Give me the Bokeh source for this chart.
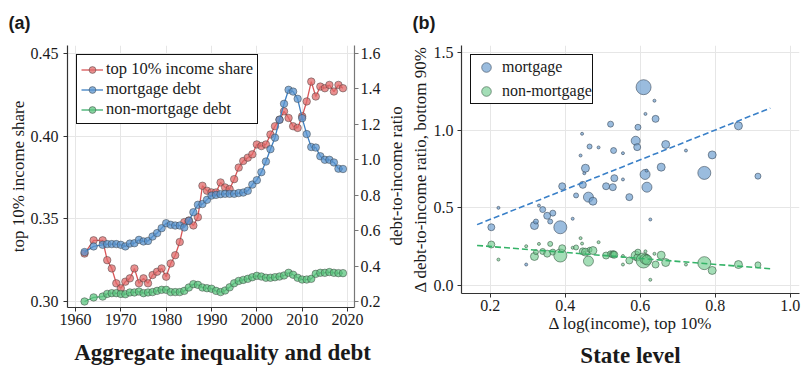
import math
from bokeh.plotting import figure
from bokeh.models import (Range1d, LinearAxis, FixedTicker, Legend, LegendItem,
                          Title, NumeralTickFormatter)
from bokeh.layouts import row
from bokeh.embed import file_html
from bokeh.resources import INLINE

# ---------------- data: panel (a) ----------------
years = [1962, 1964] + list(range(1966, 2020))
top10_share = [0.329, 0.337,
               0.337, 0.325, 0.320, 0.311,
               0.308, 0.312, 0.314, 0.320, 0.311, 0.314, 0.311, 0.316, 0.318, 0.320,
               0.315, 0.323, 0.328, 0.336, 0.348, 0.349, 0.346, 0.351, 0.370, 0.367,
               0.366, 0.366, 0.372, 0.369, 0.368, 0.374, 0.381, 0.385, 0.387, 0.389,
               0.395, 0.394, 0.395, 0.401, 0.406, 0.410, 0.415, 0.411, 0.406, 0.405,
               0.412, 0.421, 0.433, 0.424, 0.430, 0.429, 0.431, 0.427, 0.431, 0.429]
mortgage_debt = [0.479, 0.511,
                 0.520, 0.524, 0.524, 0.524,
                 0.520, 0.511, 0.527, 0.529, 0.548, 0.539, 0.542, 0.567, 0.586, 0.614,
                 0.642, 0.633, 0.629, 0.629, 0.618, 0.655, 0.704, 0.746, 0.750, 0.774,
                 0.798, 0.802, 0.806, 0.808, 0.808, 0.808, 0.812, 0.815, 0.825, 0.860,
                 0.885, 0.930, 0.990, 1.060, 1.125, 1.226, 1.316, 1.395, 1.385, 1.344,
                 1.235, 1.145, 1.072, 1.069, 1.020, 1.000, 1.000, 0.985, 0.950, 0.948]
nonmortgage_debt = [0.200, 0.223,
                    0.228, 0.243, 0.247, 0.247,
                    0.243, 0.241, 0.251, 0.251, 0.256, 0.247, 0.251, 0.253, 0.260, 0.266,
                    0.266, 0.253, 0.253, 0.253, 0.260, 0.279, 0.298, 0.294, 0.279, 0.275,
                    0.272, 0.260, 0.253, 0.262, 0.280, 0.303, 0.316, 0.322, 0.328, 0.337,
                    0.345, 0.341, 0.334, 0.334, 0.337, 0.341, 0.347, 0.362, 0.351, 0.334,
                    0.324, 0.324, 0.328, 0.356, 0.362, 0.362, 0.366, 0.362, 0.360, 0.360]

year_ticks = [1960, 1970, 1980, 1990, 2000, 2010, 2020]
share_ticks = [0.30, 0.35, 0.40, 0.45]
ratio_ticks = [0.2, 0.4, 0.6, 0.8, 1.0, 1.2, 1.4, 1.6]

# ---------------- data: panel (b) ----------------
state_dlog_income = [0.203, 0.222, 0.296, 0.318, 0.322, 0.330, 0.340, 0.352, 0.360, 0.367,
                     0.387, 0.392, 0.420, 0.429, 0.441, 0.445, 0.447, 0.451, 0.454, 0.462,
                     0.465, 0.474, 0.489, 0.509, 0.521, 0.527, 0.529, 0.531, 0.554, 0.554,
                     0.571, 0.588, 0.592, 0.594, 0.609, 0.613, 0.614, 0.617, 0.618, 0.627,
                     0.638, 0.641, 0.656, 0.668, 0.722, 0.771, 0.792, 0.862, 0.914]
state_d_mortgage = [0.375, 0.500, 0.135, 0.386, 0.412, 0.515, 0.489, 0.449, 0.412, 0.466,
                    0.375, 0.639, 0.430, 0.580, 0.837, 0.977, 0.648, 0.723, 0.755, 0.569,
                    0.895, 0.543, 0.889, 0.639, 1.039, 0.633, 0.869, 0.691, 0.852, 0.683,
                    0.569, 0.932, 0.891, 1.019, 1.277, 0.715, 1.105, 0.740, 0.633, 0.425,
                    1.190, 1.073, 0.762, 0.908, 0.869, 0.725, 0.841, 1.028, 0.704]
state_d_nonmortgage = [0.264, 0.167, 0.253, 0.187, 0.215, 0.268, 0.219, 0.205, 0.268, 0.215,
                       0.193, 0.240, 0.243, 0.245, 0.305, 0.270, 0.220, 0.210, 0.215, 0.157,
                       0.230, 0.225, 0.279, 0.193, 0.204, 0.200, 0.205, 0.198, 0.135, 0.190,
                       0.161, 0.193, 0.180, 0.215, 0.161, 0.170, 0.220, 0.190, 0.165, 0.037,
                       0.204, 0.135, 0.195, 0.148, 0.135, 0.144, 0.097, 0.135, 0.133]
state_size = [7, 3, 3, 8, 5, 3, 6, 7, 5, 6,
              13, 7, 3, 5, 3, 3, 7, 3, 8, 10,
              5, 8, 3, 7, 6, 7, 6, 7, 3, 3,
              7, 9, 7, 6, 15, 10, 3, 3, 10, 3,
              3, 7, 8, 8, 3, 13, 8, 8, 6]

fit_x = [0.165, 0.947]
fit_mortgage = [0.392, 1.142]
fit_nonmortgage = [0.258, 0.108]

state_x_ticks = [0.2, 0.4, 0.6, 0.8, 1.0]
state_y_ticks = [0.0, 0.5, 1.0, 1.5]

# ---------------- styles ----------------
SERIF = "Liberation Serif, DejaVu Serif, serif"
SANS = "Liberation Sans, DejaVu Sans, sans-serif"
RED_L, RED_F = "#d95557", "#e06a6a"
BLUE_L, BLUE_F = "#3d7fc1", "#5a94cf"
GREEN_L, GREEN_F = "#3cae6b", "#5cc47f"
GRID = "#e6e6e6"
TXT = "#1a1a1a"
NBSP = "\u00a0"


def style_axis(ax, line_color="#333333"):
    ax.major_label_text_font = SERIF
    ax.major_label_text_font_size = "16px"
    ax.major_label_text_color = TXT
    ax.axis_label_text_font = SERIF
    ax.axis_label_text_font_size = "17px"
    ax.axis_label_text_font_style = "normal"
    ax.axis_label_text_color = TXT
    ax.axis_line_color = line_color
    ax.axis_line_width = 1.2
    ax.major_tick_line_color = line_color
    ax.major_tick_line_width = 1.0
    ax.major_tick_in = 0
    ax.major_tick_out = 4
    ax.minor_tick_line_color = None


def text_only_axis(label, standoff, size="17px", bold=False):
    """An axis with no line and no ticks, used only to carry a title text."""
    ax = LinearAxis(ticker=FixedTicker(ticks=[]), axis_label=label)
    ax.axis_line_color = None
    ax.major_tick_line_color = None
    ax.minor_tick_line_color = None
    ax.major_label_text_font_size = "0px"
    ax.axis_label_text_font = SERIF
    ax.axis_label_text_font_size = size
    ax.axis_label_text_font_style = "bold" if bold else "normal"
    ax.axis_label_text_color = TXT
    ax.axis_label_standoff = standoff
    return ax


def panel_tag(text, offset):
    return Title(text=text, align="left", offset=offset, standoff=21, vertical_align="top",
                 text_font=SANS, text_font_style="bold", text_font_size="18px",
                 text_color=TXT)


# ================= panel (a) =================
p1 = figure(frame_width=287, frame_height=262,
            min_border_left=67, min_border_right=26, min_border_top=45, min_border_bottom=66,
            x_range=Range1d(1958.24, 2021.54), y_range=Range1d(0.29637, 0.45484),
            output_backend="svg", toolbar_location=None)
p1.extra_y_ranges = {"debt": Range1d(0.1661, 1.6452)}
p1.outline_line_color = None
p1.background_fill_color = "white"
p1.border_fill_color = "white"

p1.xaxis.ticker = FixedTicker(ticks=year_ticks)
p1.yaxis.ticker = FixedTicker(ticks=share_ticks)
p1.yaxis.formatter = NumeralTickFormatter(format="0.00")
p1.yaxis.axis_label = "top 10% income share"
style_axis(p1.xaxis[0])
style_axis(p1.yaxis[0])
p1.xaxis.major_label_standoff = 2
p1.yaxis.major_label_standoff = 5
p1.yaxis.axis_label_standoff = 0
# panel caption carried by the x axis title
p1.xaxis.axis_label = NBSP * 4 + "Aggregate inequality and debt"
p1.xaxis.axis_label_text_font_size = "23px"
p1.xaxis.axis_label_text_font_style = "bold"
p1.xaxis.axis_label_standoff = 12

rax = LinearAxis(y_range_name="debt", ticker=FixedTicker(ticks=ratio_ticks),
                 formatter=NumeralTickFormatter(format="0.0"))
style_axis(rax, line_color="#777777")
rax.major_label_standoff = 2
p1.add_layout(rax, "right")

for g in (p1.xgrid, p1.ygrid):
    g.grid_line_color = GRID
    g.grid_line_width = 1

l_red = p1.line(years, top10_share, line_color=RED_L, line_width=1.3)
s_red = p1.scatter(years, top10_share, size=7.5, fill_color=RED_F, fill_alpha=0.75,
                   line_color="#3a3a3a", line_alpha=0.6, line_width=0.8)
l_blue = p1.line(years, mortgage_debt, line_color=BLUE_L, line_width=1.3, y_range_name="debt")
s_blue = p1.scatter(years, mortgage_debt, size=7.5, fill_color=BLUE_F, fill_alpha=0.75,
                    line_color="#3a3a3a", line_alpha=0.6, line_width=0.8, y_range_name="debt")
l_green = p1.line(years, nonmortgage_debt, line_color=GREEN_L, line_width=1.3, y_range_name="debt")
s_green = p1.scatter(years, nonmortgage_debt, size=7.5, fill_color=GREEN_F, fill_alpha=0.75,
                     line_color="#3a3a3a", line_alpha=0.6, line_width=0.8, y_range_name="debt")

leg1 = Legend(items=[LegendItem(label="top 10% income share", renderers=[l_red, s_red]),
                     LegendItem(label="mortgage debt", renderers=[l_blue, s_blue]),
                     LegendItem(label="non-mortgage debt", renderers=[l_green, s_green])],
              location="top_left", margin=9, padding=4, spacing=0,
              glyph_width=22, glyph_height=17, label_height=17, label_standoff=3,
              label_text_font=SERIF, label_text_font_size="16.5px", label_text_color=TXT,
              border_line_color="#111111", border_line_width=1.2, border_line_alpha=1.0,
              background_fill_color="white", background_fill_alpha=1.0)
p1.add_layout(leg1)
p1.add_layout(panel_tag("(a)", -59), "above")

# ================= panel (b) =================
p2 = figure(frame_width=338, frame_height=248,
            min_border_left=74, min_border_right=3, min_border_top=45, min_border_bottom=80,
            x_range=Range1d(0.1235, 1.0248), y_range=Range1d(-0.0515, 1.5454),
            output_backend="svg", toolbar_location=None)
p2.outline_line_color = None
p2.background_fill_color = "white"
p2.border_fill_color = "white"
p2.xaxis.ticker = FixedTicker(ticks=state_x_ticks)
p2.yaxis.ticker = FixedTicker(ticks=state_y_ticks)
p2.xaxis.formatter = NumeralTickFormatter(format="0.0")
p2.yaxis.formatter = NumeralTickFormatter(format="0.0")
p2.xaxis.axis_label = "\u0394 log(income), top 10%"
p2.yaxis.axis_label = "\u0394 debt-to-income ratio, bottom 90%"
style_axis(p2.xaxis[0])
style_axis(p2.yaxis[0])
p2.xaxis.major_label_standoff = 2
p2.xaxis.axis_label_standoff = 0
p2.yaxis.major_label_standoff = 4
p2.yaxis.axis_label_standoff = 1
for g in (p2.xgrid, p2.ygrid):
    g.grid_line_color = GRID
    g.grid_line_width = 1

# right-hand title of panel (a), placed in the gap between the panels
p2.add_layout(text_only_axis("debt-to-income ratio" + NBSP * 3, 2), "left")
# caption of panel (b)
p2.add_layout(text_only_axis("State level", 7, size="23px", bold=True), "below")

m_pts = p2.scatter(state_dlog_income, state_d_mortgage, size=state_size,
                   fill_color="#6a9ccf", fill_alpha=0.68,
                   line_color="#3a4a5a", line_alpha=0.75, line_width=0.8)
n_pts = p2.scatter(state_dlog_income, state_d_nonmortgage, size=state_size,
                   fill_color="#6cc98a", fill_alpha=0.62,
                   line_color="#3a5a45", line_alpha=0.75, line_width=0.8)
p2.line(fit_x, fit_mortgage, line_color="#3a80c8", line_width=1.6, line_dash="6 3")
p2.line(fit_x, fit_nonmortgage, line_color="#35b368", line_width=1.6, line_dash="6 3")

leg2 = Legend(items=[LegendItem(label="mortgage", renderers=[m_pts]),
                     LegendItem(label="non-mortgage", renderers=[n_pts])],
              location="top_left", margin=9, padding=0, spacing=0,
              glyph_width=30, glyph_height=24, label_height=24, label_standoff=1,
              label_text_font=SERIF, label_text_font_size="16px", label_text_color=TXT,
              border_line_color="#111111", border_line_width=1.2, border_line_alpha=1.0,
              background_fill_color="white", background_fill_alpha=1.0)
p2.add_layout(leg2)
p2.add_layout(panel_tag("(b)", -49), "above")

layout = row(p1, p2)
open("out.html", "w").write(file_html(layout, INLINE))
